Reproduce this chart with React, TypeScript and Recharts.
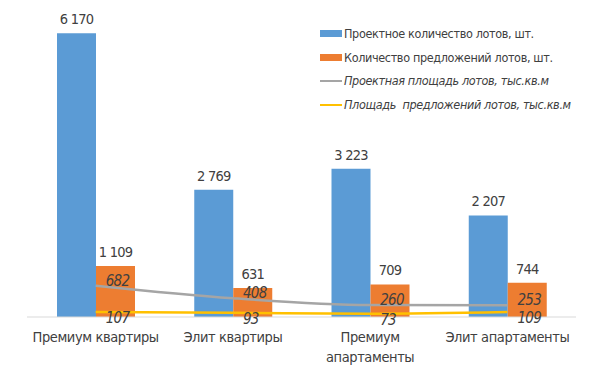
import { Bar, ComposedChart, LabelList, Legend, Line, XAxis, YAxis } from "recharts"

const categories = ["Премиум квартиры", "Элит квартиры", "Премиум\nапартаменты", "Элит апартаменты"]
const projectLots = [6170, 2769, 3223, 2207]
const offeredLots = [1109, 631, 709, 744]
const projectArea = [682, 408, 260, 253]
const offeredArea = [107, 93, 73, 109]

const seriesNames = [
  "Проектное количество лотов, шт.",
  "Количество предложений лотов, шт.",
  "Проектная площадь лотов, тыс.кв.м",
  "Площадь  предложений лотов, тыс.кв.м",
]

const data = categories.map((name, i) => ({
  name,
  project: projectLots[i],
  offered: offeredLots[i],
  projectArea: projectArea[i],
  offeredArea: offeredArea[i],
}))

const font = "'Liberation Sans Narrow', 'DejaVu Sans Condensed', 'Roboto', sans-serif"
const textColor = "#404040"

const fmt = (v: any) => String(v).replace(/\B(?=(\d{3})+(?!\d))/g, " ")

function CategoryTick(props: any) {
  const { x, y, payload } = props
  const lines = String(payload.value).split("\n")
  return (
    <text
      x={x}
      y={y + 17}
      textAnchor="middle"
      fill={textColor}
      fontSize={14.5}
      letterSpacing={-0.4}
      fontFamily={font}
    >
      {lines.map((l, i) => (
        <tspan key={i} x={x} dy={i === 0 ? 0 : 20}>
          {l}
        </tspan>
      ))}
    </text>
  )
}

function LineLabel(dy: number) {
  return (props: any) => {
    const { x, y, value } = props
    return (
      <text
        x={x + 10}
        y={y + dy}
        fill={textColor}
        fontSize={15}
        letterSpacing={-0.6}
        fontStyle="italic"
        fontFamily={font}
        dominantBaseline="central"
      >
        {value}
      </text>
    )
  }
}

function LegendBox() {
  const items = [
    { color: "#5B9BD5", kind: "bar" },
    { color: "#ED7D31", kind: "bar" },
    { color: "#A5A5A5", kind: "line" },
    { color: "#FFC000", kind: "line" },
  ]
  return (
    <div style={{ fontFamily: font, fontSize: 12.5, letterSpacing: -0.35, color: textColor }}>
      {items.map((it, i) => (
        <div key={i} style={{ display: "flex", alignItems: "center", height: 23.6 }}>
          <div
            style={{
              width: 22,
              height: it.kind === "bar" ? 7 : 2,
              background: it.color,
              marginRight: 2,
            }}
          />
          <span style={{ fontStyle: it.kind === "line" ? "italic" : "normal", whiteSpace: "pre" }}>
            {seriesNames[i]}
          </span>
        </div>
      ))}
    </div>
  )
}

export default function App() {
  return (
    <div style={{ position: "absolute", left: 0, top: 0, background: "#fff" }}>
      <ComposedChart
        width={610}
        height={370}
        data={data}
        margin={{ top: 18, right: 34, bottom: 0, left: 27 }}
        barGap={0}
      >
        <XAxis
          dataKey="name"
          height={53}
          tick={<CategoryTick />}
          tickLine={false}
          axisLine={{ stroke: "#D9D9D9" }}
          interval={0}
        />
        <YAxis hide domain={[0, 6500]} />
        <Legend
          layout="horizontal"
          verticalAlign="middle"
          align="center"
          content={<LegendBox />}
          wrapperStyle={{ top: 22, left: 320, width: 280 }}
        />
        <Bar dataKey="project" name={seriesNames[0]} fill="#5B9BD5" barSize={39} isAnimationActive={false}>
          <LabelList
            dataKey="project"
            position="top"
            offset={9}
            formatter={fmt}
            fill={textColor}
            fontSize={14.5}
            letterSpacing={-0.8}
            fontFamily={font}
          />
        </Bar>
        <Bar dataKey="offered" name={seriesNames[1]} fill="#ED7D31" barSize={39} isAnimationActive={false}>
          <LabelList
            dataKey="offered"
            position="top"
            offset={9}
            formatter={fmt}
            fill={textColor}
            fontSize={14.5}
            letterSpacing={-0.8}
            fontFamily={font}
          />
        </Bar>
        <Line
          type="monotone"
          dataKey="projectArea"
          name={seriesNames[2]}
          stroke="#A5A5A5"
          strokeWidth={2.5}
          dot={false}
          isAnimationActive={false}
        >
          <LabelList dataKey="projectArea" content={LineLabel(-5)} />
        </Line>
        <Line
          type="monotone"
          dataKey="offeredArea"
          name={seriesNames[3]}
          stroke="#FFC000"
          strokeWidth={2.5}
          dot={false}
          isAnimationActive={false}
        >
          <LabelList dataKey="offeredArea" content={LineLabel(6)} />
        </Line>
      </ComposedChart>
    </div>
  )
}
